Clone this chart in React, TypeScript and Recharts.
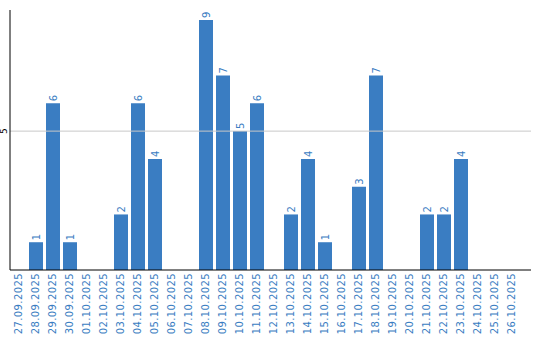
import { BarChart, Bar, XAxis, YAxis, ReferenceLine, LabelList } from "recharts";

const dates = [
  "27.09.2025", "28.09.2025", "29.09.2025", "30.09.2025", "01.10.2025", "02.10.2025",
  "03.10.2025", "04.10.2025", "05.10.2025", "06.10.2025", "07.10.2025", "08.10.2025",
  "09.10.2025", "10.10.2025", "11.10.2025", "12.10.2025", "13.10.2025", "14.10.2025",
  "15.10.2025", "16.10.2025", "17.10.2025", "18.10.2025", "19.10.2025", "20.10.2025",
  "21.10.2025", "22.10.2025", "23.10.2025", "24.10.2025", "25.10.2025", "26.10.2025",
];
const counts = [0, 1, 6, 1, 0, 0, 2, 6, 4, 0, 0, 9, 7, 5, 6, 0, 2, 4, 1, 0, 3, 7, 0, 0, 2, 2, 4, 0, 0, 0];
const yTicks = [5];

const BLUE = "#3a7dc2";
const FONT = "'DejaVu Sans', Verdana, sans-serif";

const data = dates.map((d, i) => ({ date: d, count: counts[i] }));

function XTick({ x, y, payload }: any) {
  return (
    <text
      transform={`translate(${x},${y - 5}) rotate(-90)`}
      textAnchor="end"
      dy="0.35em"
      fill={BLUE}
      fontSize={10}
      letterSpacing={0.4}
      fontFamily={FONT}
    >
      {payload.value}
    </text>
  );
}

function YTick({ y, payload }: any) {
  return (
    <text
      transform={`translate(4,${y}) rotate(-90)`}
      textAnchor="middle"
      dy="0.35em"
      fill="#000"
      fontSize={9}
      fontFamily={FONT}
    >
      {payload.value}
    </text>
  );
}

function ValueLabel({ x, y, width, value }: any) {
  if (!value) return null;
  const cx = x + width / 2;
  return (
    <text
      transform={`translate(${cx},${y - 2}) rotate(-90)`}
      textAnchor="start"
      dy="0.35em"
      fill={BLUE}
      fontSize={10}
      fontFamily={FONT}
    >
      {value}
    </text>
  );
}

export default function App() {
  return (
    <div style={{ position: "absolute", left: 0, top: 0, background: "#fff" }}>
      <BarChart width={540} height={340} data={data} margin={{ top: 10, right: 9, bottom: 0, left: 0 }}>
        <XAxis
          dataKey="date"
          interval={0}
          height={70}
          tickLine={false}
          axisLine={{ stroke: "#000" }}
          tick={<XTick />}
          padding={{ left: 0, right: 11 }}
        />
        <YAxis
          width={10}
          domain={[0, 9.36]}
          ticks={yTicks}
          tickLine={false}
          axisLine={{ stroke: "#000" }}
          tick={<YTick />}
        />
        <ReferenceLine y={5} stroke="#c8c8c8" />
        <Bar dataKey="count" fill={BLUE} barSize={14} isAnimationActive={false}>
          <LabelList dataKey="count" content={<ValueLabel />} />
        </Bar>
      </BarChart>
    </div>
  );
}
